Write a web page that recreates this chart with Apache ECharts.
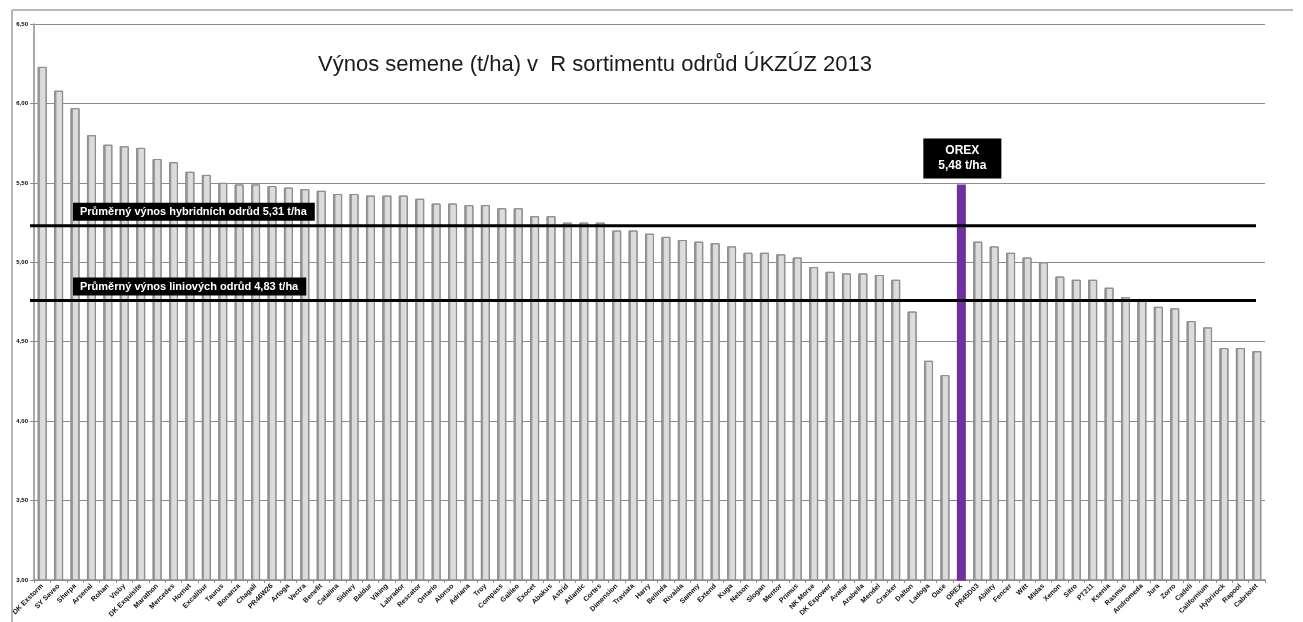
<!DOCTYPE html>
<html><head><meta charset="utf-8">
<script src="https://cdn.jsdelivr.net/npm/echarts@6/dist/echarts.min.js"></script>
<style>html,body{margin:0;padding:0;background:#fff}#c{width:1303px;height:622px}</style>
</head><body><div id="c"></div>
<script>
const title = 'Výnos semene (t/ha) v  R sortimentu odrůd ÚKZÚZ 2013';
const categories = ['DK Exstorm','SY Saveo','Sherpa','Arsenal','Rohan','Visby','DK Exquisite','Marathon','Mercedes','Hornet',
  'Excalibur','Taurus','Bonanza','Chagall','PR46W26','Artoga','Vectra','Benefit','Catalina','Sidney',
  'Baldur','Viking','Labrador','Rescator','Ontario','Alonso','Adriana','Troy','Compass','Galileo',
  'Exocet','Abakus','Astrid','Atlantic','Cortes','Dimension','Traviata','Harry','Belinda','Rivalda',
  'Sammy','Extend','Kuga','Nelson','Slogan','Mentor','Primus','NK Morse','DK Expower','Avatar',
  'Arabella','Mendel','Cracker','Dalton','Ladoga','Oase','OREX','PR45D03','Ability','Fencer',
  'Witt','Midas','Xenon','Sitro','PT211','Ksenia','Rasmus','Andromeda','Jura','Zorro',
  'Cadeli','Californium','Hybrirock','Rapool','Cabriolet'];
const yields = [6.23,6.08,5.97,5.80,5.74,5.73,5.72,5.65,5.63,5.57,
  5.55,5.50,5.49,5.49,5.48,5.47,5.46,5.45,5.43,5.43,
  5.42,5.42,5.42,5.40,5.37,5.37,5.36,5.36,5.34,5.34,
  5.29,5.29,5.25,5.25,5.25,5.20,5.20,5.18,5.16,5.14,
  5.13,5.12,5.10,5.06,5.06,5.05,5.03,4.97,4.94,4.93,
  4.93,4.92,4.89,4.69,4.38,4.29,5.49,5.13,5.10,5.06,
  5.03,5.00,4.91,4.89,4.89,4.84,4.78,4.76,4.72,4.71,
  4.63,4.59,4.46,4.46,4.44];
const highlightName = 'OREX';
const highlightLabel = ['OREX', '5,48 t/ha'];
const avgLineLevels = [5.23, 4.76];
const avgLineLabels = ['Průměrný výnos hybridních odrůd 5,31 t/ha', 'Průměrný výnos liniových odrůd 4,83 t/ha'];
const yMin = 3.0, yMax = 6.5, yStep = 0.5;

const chart = echarts.init(document.getElementById('c'));
const hiIdx = categories.indexOf(highlightName);
const grayGrad = new echarts.graphic.LinearGradient(0,0,1,0,[
  {offset:0,color:'#979797'},{offset:0.22,color:'#9c9c9c'},{offset:0.3,color:'#d9d9d9'},{offset:0.75,color:'#dedede'},{offset:1,color:'#b0b0b0'}]);
const option = {
  animation:false,
  title:{text:title,left:313,top:49,textStyle:{fontFamily:'Liberation Sans',fontSize:22,fontWeight:'normal',color:'#1a1a1a'}},
  grid:{left:34,right:38,top:24,bottom:42,containLabel:false},
  xAxis:{type:'category',data:categories,
    axisLine:{lineStyle:{color:'#8c8c8c',width:1.5}},
    axisTick:{show:true,length:3,lineStyle:{color:'#8c8c8c'}},
    axisLabel:{rotate:45,fontSize:7,fontWeight:'bold',color:'#111',margin:5,interval:0,fontFamily:'Liberation Sans'}},
  yAxis:{type:'value',min:yMin,max:yMax,interval:yStep,
    axisLine:{show:true,lineStyle:{color:'#8c8c8c',width:1.5}},
    axisTick:{show:true,length:4,lineStyle:{color:'#8c8c8c'}},
    splitLine:{lineStyle:{color:'#8c8c8c',width:1.2}},
    axisLabel:{fontSize:6,fontWeight:'bold',color:'#000',margin:6,fontFamily:'Liberation Sans',
      formatter:v=>v.toFixed(2).replace('.',',')}},
  series:[{type:'bar',barWidth:9,
    data:yields.map((v,i)=> i===hiIdx ? {value:v,itemStyle:{color:'#7030a0',borderColor:'#7030a0',borderWidth:1.5}} : v),
    itemStyle:{color:grayGrad,borderColor:'#8e8e8e',borderWidth:1}}]
};
chart.setOption(option);

const g = [];
g.push({type:'line',shape:{x1:12,y1:10,x2:1293,y2:10},style:{stroke:'#a0a0a0',lineWidth:1.5},z:5});
g.push({type:'line',shape:{x1:12,y1:10,x2:12,y2:622},style:{stroke:'#a0a0a0',lineWidth:1.5},z:5});
avgLineLevels.forEach((lv,k)=>{
  const y = chart.convertToPixel({gridIndex:0},[0,lv])[1];
  g.push({type:'line',shape:{x1:30,y1:y,x2:1256,y2:y},style:{stroke:'#000',lineWidth:3},z:10});
  g.push({type:'text',x:73,y:y-5,z:11,style:{text:avgLineLabels[k],fill:'#fff',backgroundColor:'#000',
    padding:[4,8,3,7],font:'bold 11px "Liberation Sans"',textVerticalAlign:'bottom',textAlign:'left'}});
});
const hp = chart.convertToPixel({gridIndex:0},[hiIdx,yields[hiIdx]]);
g.push({type:'text',x:hp[0]+1,y:hp[1]-6,z:11,style:{text:highlightLabel.join('\n'),fill:'#fff',backgroundColor:'#000',
  padding:[5,15,5,15],lineHeight:15,font:'bold 12px "Liberation Sans"',textAlign:'center',align:'center',textVerticalAlign:'bottom',verticalAlign:'bottom'}});
chart.setOption({graphic:g});
</script></body></html>
